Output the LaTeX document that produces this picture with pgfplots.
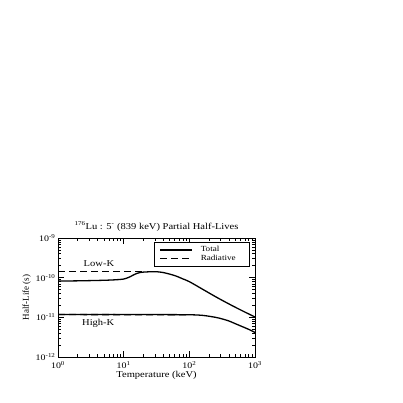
\documentclass[border=0pt]{standalone}
\usepackage{fontspec}
\setmainfont[FakeStretch=1.17]{Liberation Serif}
\newfontfamily\plainserif{Liberation Serif}
\usepackage{pgfplots}
\pgfplotsset{compat=1.18}
\begin{document}
\begin{tikzpicture}
\path[use as bounding box] (0,0) rectangle (403pt,403pt);
\begin{axis}[
  at={(58pt,46pt)}, anchor=south west,
  scale only axis, width=197pt, height=119pt,
  xmode=log, ymode=log,
  xmin=1, xmax=1000, ymin=1e-12, ymax=1e-9,
  axis line style={line width=1pt},
  tick align=inside, tick pos=both,
  major tick length=6pt, minor tick length=3.5pt,
  every tick/.style={black, line width=0.6pt},
  xtick={1,10,100,1000},
  xticklabels={10\textsuperscript{0},10\textsuperscript{1},10\textsuperscript{2},10\textsuperscript{3}},
  ytick={1e-12,1e-11,1e-10,1e-9},
  yticklabels={10\textsuperscript{-12},10\textsuperscript{-11},10\textsuperscript{-10},10\textsuperscript{-9}},
  ticklabel style={font=\fontsize{8.5}{9}\selectfont},
  xticklabel style={yshift=-1pt},
  yticklabel style={xshift=1pt},
  xlabel={Temperature (keV)},
  ylabel={\plainserif Half-Life (s)},
  label style={font=\fontsize{9}{10}\selectfont},
  xlabel style={yshift=4pt},
  ylabel style={yshift=-2pt},
  title={\textsuperscript{176}Lu : 5\textsuperscript{-} (839 keV) Partial Half-Lives},
  title style={font=\fontsize{9}{10}\selectfont, yshift=-3pt},
  legend style={at={(0.975,0.966)}, anchor=north east, draw=black, line width=0.7pt,
    font=\fontsize{7.8}{8.5}\selectfont, row sep=-2pt, inner sep=2pt},
  legend cell align=left,
  legend image code/.code={\path (-3pt,0pt) (38pt,0pt); \draw[#1] (0pt,0pt) -- (32pt,0pt);},
]
\addplot[black, line width=1.3pt, smooth] coordinates {
(1,8.20e-11) (1.995,8.32e-11) (3.981,8.51e-11) (6.31,8.71e-11) (8.913,9.02e-11)
(10,9.23e-11) (11.22,9.77e-11) (12.59,1.059e-10) (14.13,1.175e-10) (15.85,1.279e-10)
(17.78,1.349e-10) (19.95,1.380e-10) (25.12,1.409e-10) (31.62,1.412e-10) (39.81,1.349e-10)
(50.12,1.230e-10) (63.1,1.096e-10) (79.43,9.33e-11) (100,7.94e-11) (158.5,5.13e-11)
(251.2,3.31e-11) (398.1,2.19e-11) (631.0,1.48e-11) (1000,1.02e-11)
};
\addlegendentry{Total}
\addplot[black, line width=1.3pt, dash pattern=on 7pt off 4pt] coordinates {
(1,1.41e-10) (21,1.41e-10)
};
\addlegendentry{Radiative\hspace*{10pt}}
\addplot[black, line width=1.3pt, dash pattern=on 7pt off 4pt, forget plot] coordinates {
(1,1.175e-11) (100,1.161e-11)
};
\addplot[black, line width=1.3pt, smooth, forget plot] coordinates {
(1,1.175e-11) (10,1.175e-11) (31.62,1.175e-11) (100,1.161e-11) (158.5,1.122e-11)
(251.2,1.0e-11) (316.2,9.12e-12) (398.1,8.13e-12) (501.2,6.92e-12) (631.0,5.89e-12)
(794.3,5.01e-12) (1000,4.17e-12)
};
\node[font=\fontsize{9}{10}\selectfont] at (axis cs:4.2,2.2e-10) {Low-K};
\node[font=\fontsize{9}{10}\selectfont] at (axis cs:4.1,7.0e-12) {High-K};
\end{axis}
\end{tikzpicture}
\end{document}
